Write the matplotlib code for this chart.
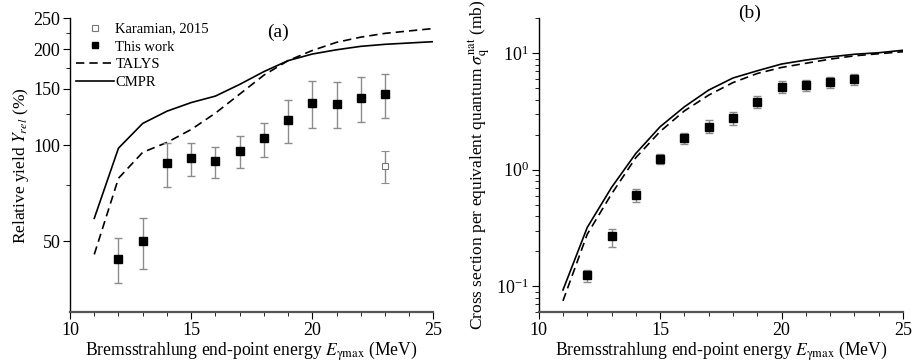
import numpy as np
import matplotlib
matplotlib.use("Agg")
import matplotlib.pyplot as plt
from matplotlib.lines import Line2D
from matplotlib.ticker import FixedLocator, FixedFormatter, NullFormatter, LogLocator

plt.rcParams['font.family'] = ['Liberation Serif', 'DejaVu Serif']
plt.rcParams['mathtext.fontset'] = 'stix'

# ---- panel (a): relative yield ----
e_exp = [12, 13, 14, 15, 16, 17, 18, 19, 20, 21, 22, 23]
y_rel = [43.9, 50.0, 87.8, 91.0, 89.0, 95.8, 105.0, 119.8, 135.4, 134.4, 140.4, 144.5]
y_rel_hi = [51.1, 59.0, 101.5, 101.5, 98.6, 106.7, 117.0, 139.0, 158.6, 157.5, 163.0, 167.0]
y_rel_lo = [36.9, 41.0, 73.9, 80.0, 79.0, 85.0, 92.0, 101.5, 113.0, 113.0, 118.0, 122.0]

e_kar = [23]
y_kar = [86.0]
y_kar_hi = [95.8]
y_kar_lo = [76.0]

e_th = [11, 12, 13, 14, 15, 16, 17, 18, 19, 20, 21, 22, 23, 24, 25]
talys_rel = [45.5, 78.8, 95.0, 102.0, 112.0, 126.0, 144.5, 165.7, 184.0, 198.0,
             210.0, 218.0, 224.0, 228.0, 232.0]
cmpr_rel = [59.0, 97.9, 117.0, 127.8, 136.0, 142.5, 155.0, 170.0, 184.0, 193.0,
            199.0, 204.0, 207.0, 209.0, 211.0]

# ---- panel (b): flux-averaged cross section ----
sig = [0.125, 0.268, 0.607, 1.235, 1.88, 2.35, 2.78, 3.81, 5.16, 5.37, 5.70, 5.96]
sig_hi = [0.138, 0.313, 0.69, 1.36, 2.08, 2.67, 3.13, 4.26, 5.80, 5.95, 6.28, 6.63]
sig_lo = [0.109, 0.218, 0.524, 1.12, 1.68, 2.05, 2.43, 3.36, 4.52, 4.70, 5.03, 5.30]

talys_sig = [0.075, 0.28, 0.62, 1.27, 2.13, 3.2, 4.37, 5.6, 6.7, 7.55, 8.2, 8.9, 9.5, 9.9, 10.3]
cmpr_sig = [0.093, 0.32, 0.705, 1.38, 2.34, 3.47, 4.83, 6.13, 7.07, 8.08, 8.74, 9.3, 9.8, 10.1, 10.6]

xlabel = r'Bremsstrahlung end-point energy $E_{\mathrm{\gamma max}}$ (MeV)'
ecol = '#8c8c8c'

fig = plt.figure(figsize=(9.13, 3.63), dpi=100)
ax1 = fig.add_axes([0.0767, 0.140, 0.398, 0.810])
ax2 = fig.add_axes([0.590, 0.140, 0.399, 0.810])


def errs(v, hi, lo):
    v = np.array(v)
    return [v - np.array(lo), np.array(hi) - v]


def style(ax):
    for s in ('top', 'right'):
        ax.spines[s].set_visible(False)
    ax.spines['bottom'].set_color('#555555')
    ax.spines['bottom'].set_linewidth(1.6)
    ax.spines['left'].set_linewidth(1.0)
    ax.set_xlim(10, 25)
    ax.set_xticks([10, 15, 20, 25])
    ax.xaxis.set_minor_locator(FixedLocator(np.arange(10, 26, 1)))
    ax.tick_params(which='major', direction='out', length=5, labelsize=13, pad=2)
    ax.tick_params(which='minor', direction='out', length=3)
    ax.set_xlabel(xlabel, fontsize=12.7, labelpad=0)


# panel (a)
ax1.set_yscale('log')
ax1.plot(e_th, talys_rel, 'k--', lw=1.2, dashes=(5, 3))
ax1.plot(e_th, cmpr_rel, 'k-', lw=1.2)
ax1.errorbar(e_kar, y_kar, yerr=errs(y_kar, y_kar_hi, y_kar_lo), fmt='s', ms=5,
             mfc='white', mec='#777777', mew=0.8, ecolor=ecol, elinewidth=1,
             capsize=3)
ax1.errorbar(e_exp, y_rel, yerr=errs(y_rel, y_rel_hi, y_rel_lo), fmt='s', ms=5.5,
             color='black', ecolor=ecol, elinewidth=1, capsize=3)
ax1.set_ylim(30, 250)
ax1.yaxis.set_major_locator(FixedLocator([50, 100, 150, 200, 250]))
ax1.yaxis.set_minor_locator(FixedLocator([75, 125, 175, 225]))
ax1.yaxis.set_major_formatter(FixedFormatter(['50', '100', '150', '200', '250']))
ax1.yaxis.set_minor_formatter(NullFormatter())
style(ax1)
ax1.set_ylabel(r'Relative yield $Y_{rel}$ (%)', fontsize=12.5, labelpad=2)

handles = [
    Line2D([], [], ls='none', marker='s', ms=5, mfc='white', mec='#777777', mew=0.8),
    Line2D([], [], ls='none', marker='s', ms=5, color='black'),
    Line2D([], [], color='black', ls='--', lw=1.2, dashes=(5, 3)),
    Line2D([], [], color='black', ls='-', lw=1.2),
]
labels = ['Karamian, 2015', 'This work', 'TALYS', 'CMPR']
ax1.legend(handles, labels, loc='upper left', bbox_to_anchor=(-0.02, 1.03),
           frameon=False, fontsize=10.5, handlelength=2.6, handletextpad=0.1,
           labelspacing=0.32)
ax1.text(18.6, 225, '(a)', fontsize=14, ha='center', va='center')

# panel (b)
ax2.set_yscale('log')
ax2.plot(e_th, talys_sig, 'k--', lw=1.2, dashes=(5, 3))
ax2.plot(e_th, cmpr_sig, 'k-', lw=1.2)
ax2.errorbar(e_exp, sig, yerr=errs(sig, sig_hi, sig_lo), fmt='s', ms=5.5,
             color='black', ecolor=ecol, elinewidth=1, capsize=3)
ax2.set_ylim(0.06, 20)
ax2.yaxis.set_major_locator(LogLocator(base=10))
ax2.yaxis.set_minor_locator(LogLocator(base=10, subs=np.arange(2, 10)))
ax2.yaxis.set_minor_formatter(NullFormatter())
style(ax2)
ax2.set_ylabel(r'Cross section per equivalent quantum $\sigma_{\mathrm{q}}^{\mathrm{nat}}$ (mb)',
               fontsize=12.5, labelpad=2)
fig.text(0.821, 0.963, '(b)', fontsize=14, ha='center', va='center')

fig.savefig('out.png', dpi=100)
